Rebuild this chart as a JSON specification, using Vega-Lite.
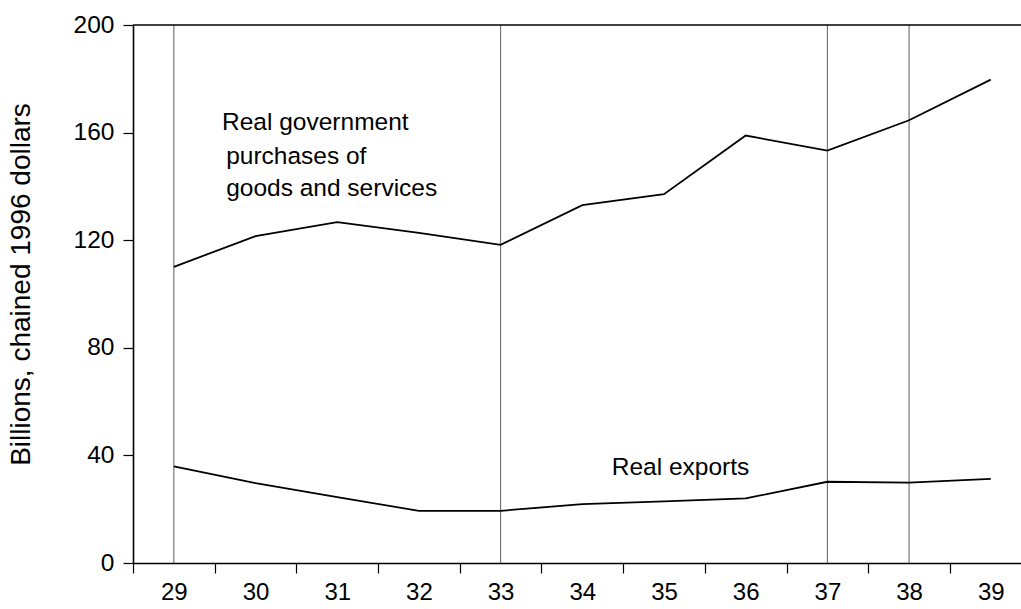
{
  "$schema": "https://vega.github.io/schema/vega-lite/v6.json",
  "width": 888,
  "height": 538,
  "autosize": {"type": "none"},
  "padding": {"left": 133, "top": 25, "right": 0, "bottom": 46},
  "background": "white",
  "config": {
    "view": {"stroke": null},
    "font": "Liberation Sans",
    "axis": {"grid": false, "domainColor": "black", "tickColor": "black", "labelColor": "black", "titleColor": "black", "labelFont": "Liberation Sans", "titleFont": "Liberation Sans"}
  },
  "datasets": {
    "series": [
      {"year": 29, "series": "gov", "value": 110.1},
      {"year": 30, "series": "gov", "value": 121.5},
      {"year": 31, "series": "gov", "value": 126.7},
      {"year": 32, "series": "gov", "value": 122.7},
      {"year": 33, "series": "gov", "value": 118.3},
      {"year": 34, "series": "gov", "value": 133.0},
      {"year": 35, "series": "gov", "value": 137.1},
      {"year": 36, "series": "gov", "value": 158.9},
      {"year": 37, "series": "gov", "value": 153.3},
      {"year": 38, "series": "gov", "value": 164.6},
      {"year": 39, "series": "gov", "value": 179.7},
      {"year": 29, "series": "exp", "value": 35.9},
      {"year": 30, "series": "exp", "value": 29.7},
      {"year": 31, "series": "exp", "value": 24.5},
      {"year": 32, "series": "exp", "value": 19.4},
      {"year": 33, "series": "exp", "value": 19.4},
      {"year": 34, "series": "exp", "value": 21.9},
      {"year": 35, "series": "exp", "value": 22.9},
      {"year": 36, "series": "exp", "value": 24.0},
      {"year": 37, "series": "exp", "value": 30.2},
      {"year": 38, "series": "exp", "value": 29.9},
      {"year": 39, "series": "exp", "value": 31.3}
    ],
    "vlines": [{"year": 29}, {"year": 33}, {"year": 37}, {"year": 38}],
    "notes": [
      {"label": "Real government", "xv": 29.59, "yv": 160.8},
      {"label": "purchases of", "xv": 29.64, "yv": 148.5},
      {"label": "goods and services", "xv": 29.64, "yv": 136.3},
      {"label": "Real exports", "xv": 34.36, "yv": 32.8}
    ]
  },
  "layer": [
    {
      "data": {"name": "vlines"},
      "mark": {"type": "rule", "stroke": "#5e5e5e", "strokeWidth": 1},
      "encoding": {
        "x": {
          "field": "year", "type": "quantitative",
          "scale": {"domain": [28.5, 39.37], "nice": false, "zero": false},
          "axis": {
            "values": [28.5, 29.5, 30.5, 31.5, 32.5, 33.5, 34.5, 35.5, 36.5, 37.5, 38.5],
            "labelExpr": "format(datum.value + 0.5, 'd')",
            "labelOffset": 40.85,
            "tickSize": 10, "tickWidth": 1.2, "domainWidth": 1.6,
            "labelFontSize": 24, "labelPadding": 7, "labelFlush": false, "labelOverlap": false,
            "title": null
          }
        },
        "y": {"datum": 0, "type": "quantitative", "scale": {"domain": [0, 200], "nice": false}},
        "y2": {"datum": 200}
      }
    },
    {
      "data": {"values": [{"v": 200}]},
      "mark": {"type": "rule", "stroke": "black", "strokeWidth": 1.6},
      "encoding": {"y": {"field": "v", "type": "quantitative"}}
    },
    {
      "data": {"name": "series"},
      "mark": {"type": "line", "stroke": "black", "strokeWidth": 1.8},
      "encoding": {
        "x": {"field": "year", "type": "quantitative"},
        "y": {
          "field": "value", "type": "quantitative",
          "axis": {
            "values": [0, 40, 80, 120, 160, 200],
            "tickSize": 10, "tickWidth": 1.2, "domainWidth": 1.6,
            "labelFontSize": 24.5, "labelPadding": 9,
            "title": "Billions, chained 1996 dollars",
            "titleFontSize": 28, "titleFontWeight": "normal",
            "titleAngle": -90, "titleAlign": "center", "titleBaseline": "middle",
            "titleX": -112, "titleY": 259
          }
        },
        "detail": {"field": "series"}
      }
    },
    {
      "data": {"name": "notes"},
      "mark": {"type": "text", "align": "left", "baseline": "alphabetic", "fontSize": 24.5, "color": "black"},
      "encoding": {
        "x": {"field": "xv", "type": "quantitative"},
        "y": {"field": "yv", "type": "quantitative"},
        "text": {"field": "label"}
      }
    }
  ]
}
